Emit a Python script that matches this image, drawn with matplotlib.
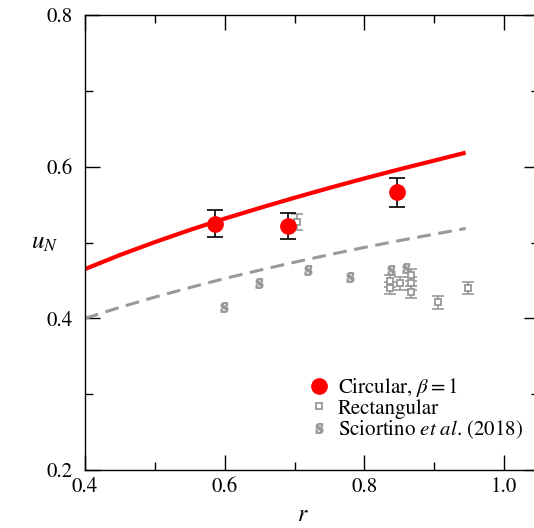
import matplotlib
matplotlib.use("Agg")
import matplotlib.pyplot as plt
from matplotlib.ticker import MultipleLocator

plt.rcParams['font.family'] = ['STIXGeneral', 'DejaVu Serif']
plt.rcParams['mathtext.fontset'] = 'stix'
plt.rcParams['font.size'] = 15

# model curves
r_curve = [0.40, 0.45, 0.50, 0.55, 0.60, 0.65, 0.70, 0.75, 0.80, 0.85, 0.90, 0.945]
u_circ = [0.465, 0.4835, 0.5005, 0.5165, 0.5315, 0.5455, 0.559, 0.572, 0.5845, 0.5965, 0.608, 0.6185]
u_rect = [0.400, 0.4145, 0.428, 0.4405, 0.4525, 0.4635, 0.474, 0.484, 0.4935, 0.5025, 0.511, 0.5185]

# circular cylinders, beta = 1
r_circ = [0.586, 0.691, 0.847]
un_circ = [0.525, 0.522, 0.566]
err_circ = [0.0175, 0.017, 0.019]

# rectangular cylinders
r_rect = [0.703, 0.836, 0.836, 0.851, 0.867, 0.867, 0.867, 0.905, 0.948]
un_rect = [0.527, 0.449, 0.440, 0.446, 0.457, 0.446, 0.435, 0.421, 0.440]
err_rect = [0.011, 0.008, 0.008, 0.008, 0.008, 0.008, 0.008, 0.0085, 0.0085]

# Sciortino et al. (2018)
r_sci = [0.599, 0.649, 0.719, 0.780, 0.838, 0.860]
un_sci = [0.415, 0.446, 0.464, 0.454, 0.464, 0.466]

red = '#ff0000'
grey = '#999999'

fig = plt.figure(figsize=(5.34, 5.28), dpi=100)
ax = fig.add_axes([85 / 534, 1 - 470 / 528, 454 / 534, 455 / 528])

ax.plot(r_curve, u_circ, color=red, lw=3, solid_capstyle='butt', zorder=2)
ax.plot(r_curve, u_rect, color=grey, lw=2.2, dashes=(4.5, 2.5), zorder=2)

ax.errorbar(r_rect, un_rect, yerr=err_rect, fmt='none', ecolor=grey,
            elinewidth=1.2, capsize=4, capthick=1.2, zorder=3)
ax.plot(r_rect, un_rect, 's', ms=5, mfc='white', mec=grey, mew=1.3,
        ls='none', label='Rectangular', zorder=4)
ax.plot(r_sci, un_sci, ls='none', marker=r'$\mathbf{s}$', ms=7, color=grey,
        label=r'Sciortino $\mathit{et\ al}$. (2018)', zorder=4)

ax.errorbar(r_circ, un_circ, yerr=err_circ, fmt='none', ecolor='black',
            elinewidth=1.2, capsize=6, capthick=1.2, zorder=5)
ax.plot(r_circ, un_circ, 'o', ms=11, color=red, ls='none',
        label=r'Circular, $\beta = 1$', zorder=6)

ax.set_xlim(0.4, 1.05)
ax.set_ylim(0.2, 0.8)
ax.xaxis.set_minor_locator(MultipleLocator(0.1))
ax.yaxis.set_minor_locator(MultipleLocator(0.1))
ax.set_xticks([0.4, 0.6, 0.8, 1.0])
ax.set_xticklabels(['0.4', '0.6', '0.8', '1.0'])
ax.set_yticks([0.2, 0.4, 0.6, 0.8])
ax.set_yticklabels(['0.2', '0.4', '0.6', '0.8'])
ax.tick_params(which='both', direction='in', top=True, right=True, width=1)
ax.tick_params(which='major', length=10.5)
ax.tick_params(which='minor', length=6)
ax.tick_params(axis='y', pad=9)
ax.tick_params(axis='x', pad=5)
for s in ax.spines.values():
    s.set_linewidth(1)

ax.set_xlabel(r'$r$', fontsize=17, va='center')
ax.xaxis.set_label_coords(0.48, -0.1)
ax.set_ylabel(r'$u_N$', fontsize=18, rotation=0, va='center', ha='center')
ax.yaxis.set_label_coords(-0.088, 0.5)

h, l = ax.get_legend_handles_labels()
order = [2, 0, 1]
ax.legend([h[i] for i in order], [l[i] for i in order], loc='upper left',
          bbox_to_anchor=(0.493, 0.207), frameon=False, borderpad=0,
          borderaxespad=0, handlelength=1.0, handletextpad=0.4,
          labelspacing=0.0, fontsize=15)

fig.savefig('out.png', dpi=100)
